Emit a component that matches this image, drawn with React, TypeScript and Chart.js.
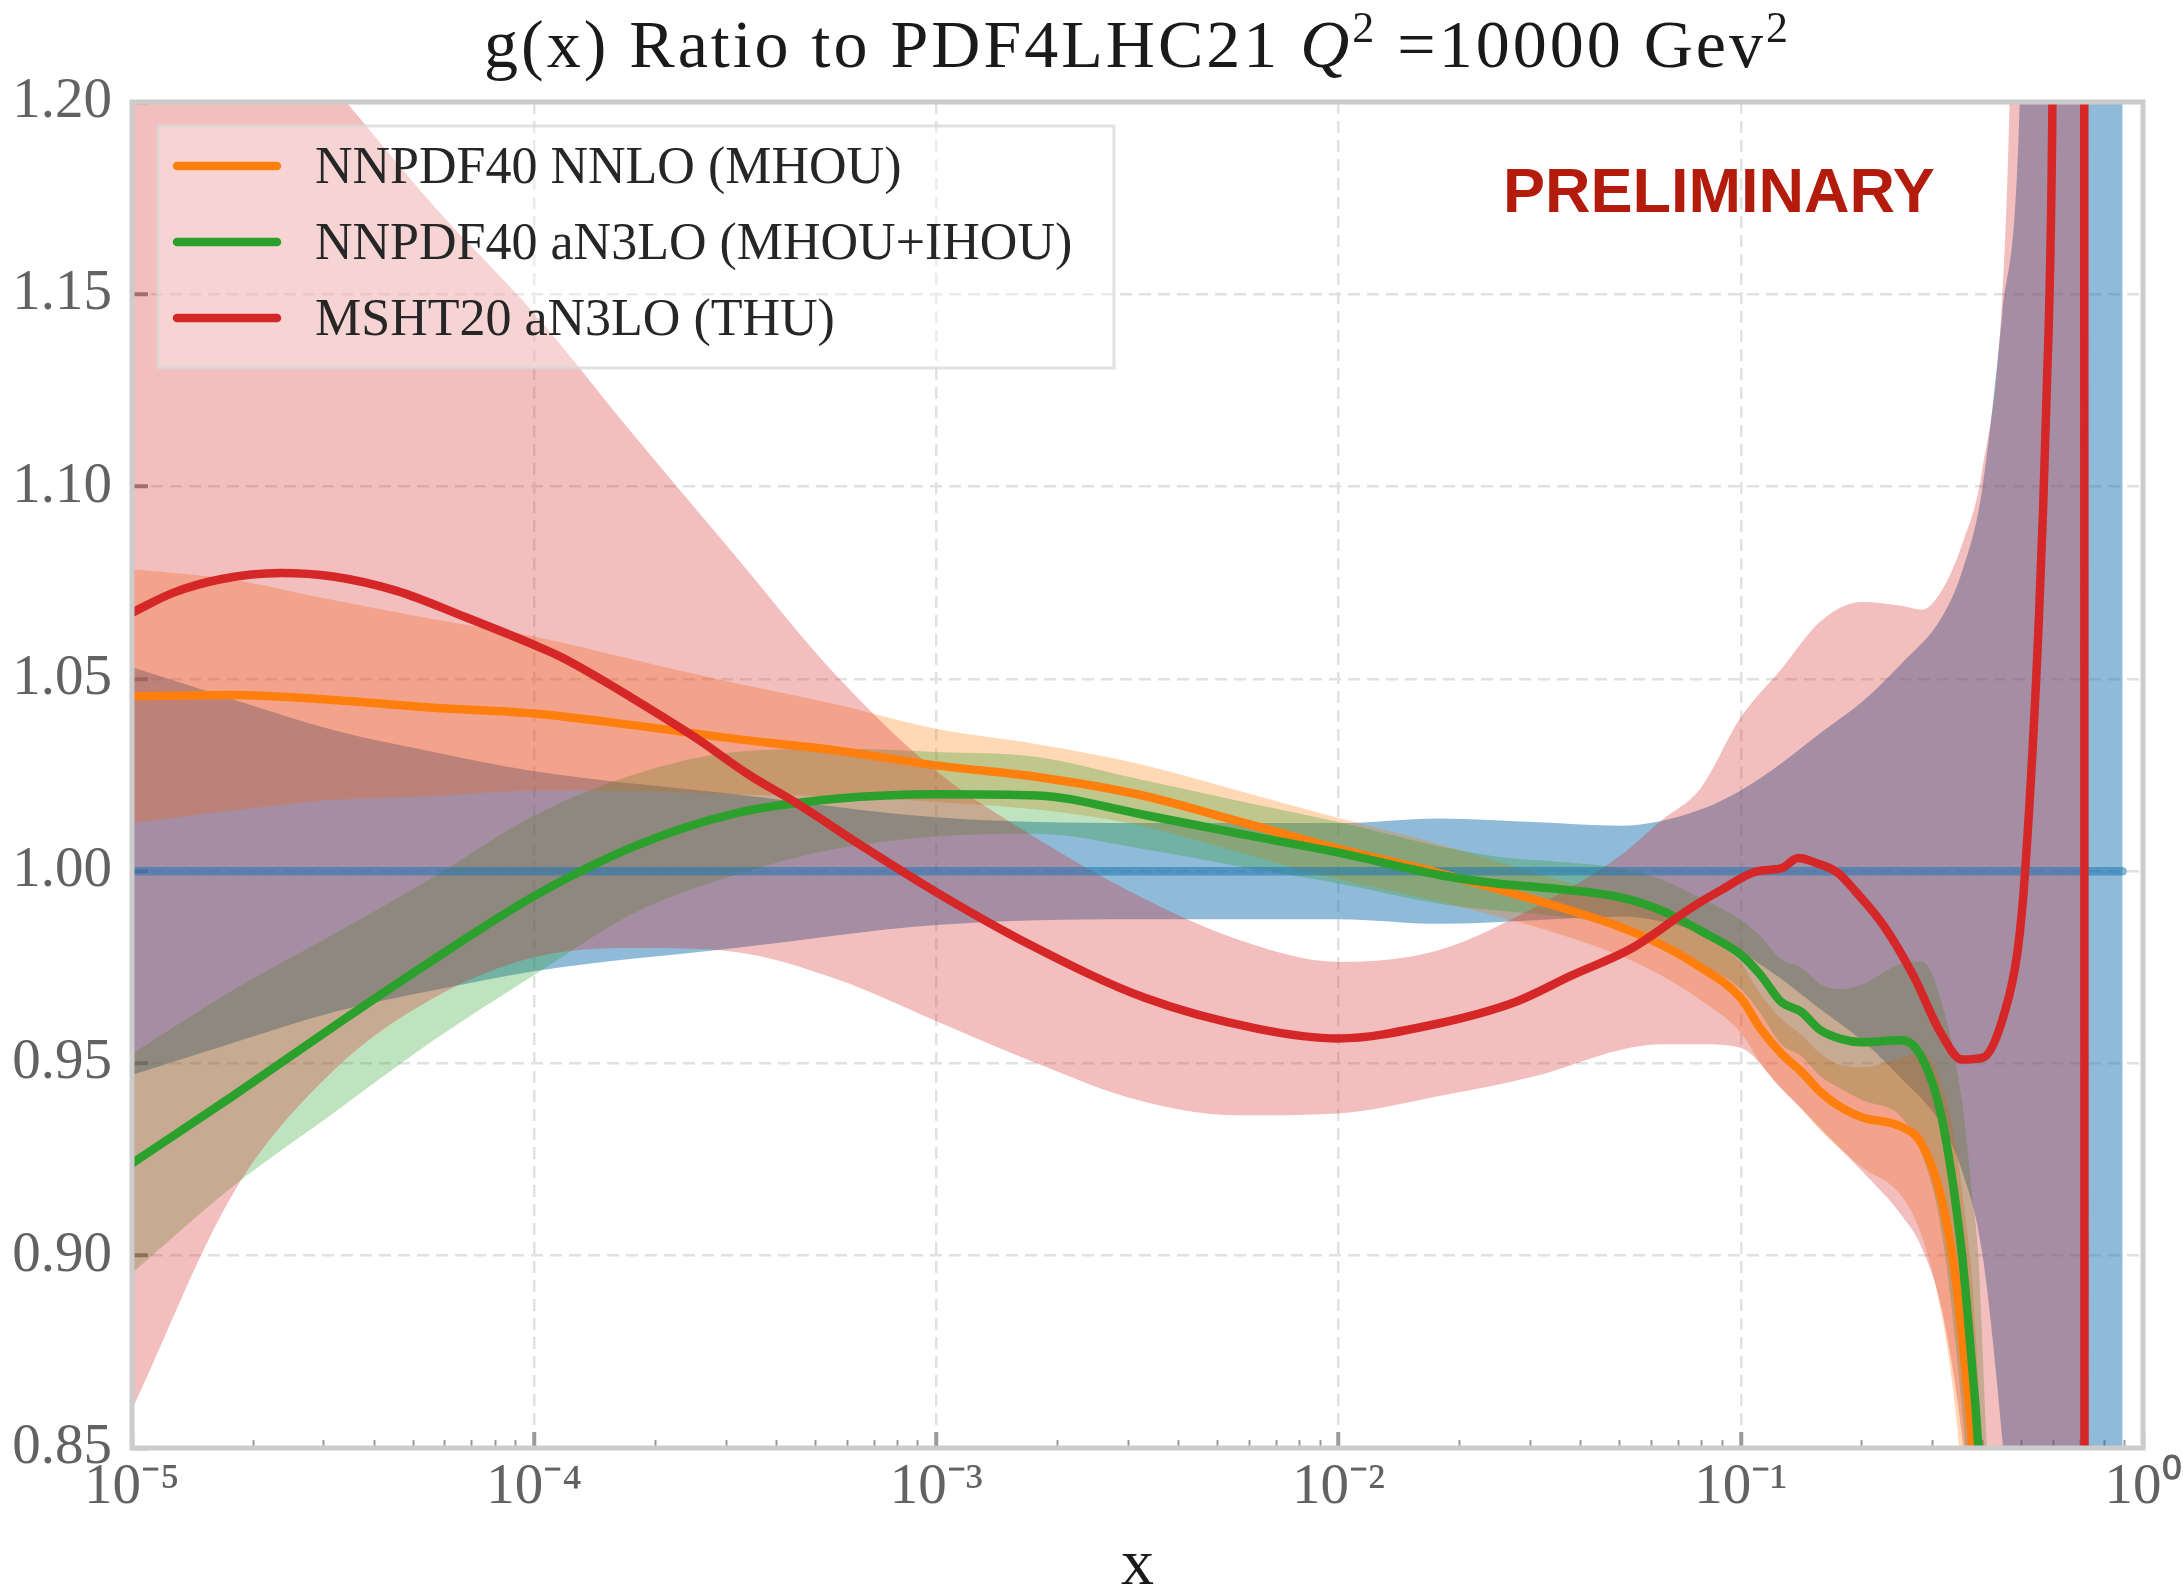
import React, { useEffect, useRef } from 'react';
import { Chart, registerables } from 'chart.js';

Chart.register(...registerables);

// ---------- text ----------
const TITLE_MAIN = 'g(x) Ratio to PDF4LHC21 ';
const TITLE_Q = 'Q';
const TITLE_SUP = '2';
const TITLE_REST = ' =10000 Gev';
const X_LABEL = 'x';
const WATERMARK = 'PRELIMINARY';

// ---------- axes ----------
const X_TICKS = [1e-5, 1e-4, 1e-3, 1e-2, 1e-1, 1];
const X_TICK_LABELS = ['10⁻⁵', '10⁻⁴', '10⁻³', '10⁻²', '10⁻¹', '10⁰'];
const Y_TICKS = [0.85, 0.9, 0.95, 1.0, 1.05, 1.1, 1.15, 1.2];
const Y_TICK_LABELS = ['0.85', '0.90', '0.95', '1.00', '1.05', '1.10', '1.15', '1.20'];

// ---------- series ----------
const SERIES_LABELS = ['NNPDF40 NNLO (MHOU)', 'NNPDF40 aN3LO (MHOU+IHOU)', 'MSHT20 aN3LO (THU)'];
const SERIES_COLORS = ['#ff7f0e', '#2ca02c', '#d62728'];
const SERIES_BAND_COLORS = ['rgba(255,127,14,0.3)', 'rgba(44,160,44,0.3)', 'rgba(214,39,40,0.3)'];
const REF_LINE_COLOR = 'rgba(31,119,180,0.55)';
const REF_BAND_COLOR = 'rgba(31,119,180,0.5)';

// PDF4LHC21 (reference, ratio = 1)
const REF_LINE_X = [1e-5, 0.89];
const REF_LINE_Y = [1.0, 1.0];
const REF_X = [1e-5, 1.78e-5, 3.16e-5, 5.62e-5, 1e-4, 3.16e-4, 1e-3, 3.16e-3, 1e-2, 1.78e-2, 3.16e-2, 5.01e-2, 6.31e-2, 7.94e-2, 0.1, 0.126, 0.158, 0.2, 0.251, 0.316, 0.355, 0.398, 0.447, 0.49, 0.562, 0.89];
const REF_UPPER = [1.053, 1.0447, 1.0367, 1.031, 1.026, 1.02, 1.014, 1.0125, 1.0125, 1.0137, 1.0127, 1.0118, 1.013, 1.016, 1.021, 1.028, 1.036, 1.044, 1.054, 1.066, 1.078, 1.099, 1.145, 1.19, 1.45, 1.5];
const REF_LOWER = [0.947, 0.9553, 0.9633, 0.969, 0.974, 0.98, 0.986, 0.9875, 0.9875, 0.9863, 0.9873, 0.9882, 0.987, 0.984, 0.979, 0.972, 0.964, 0.956, 0.946, 0.934, 0.922, 0.901, 0.852, 0.8, 0.55, 0.5];

// NNPDF40 NNLO (MHOU)
const NNLO_X = [1e-5, 1.78e-5, 3.16e-5, 5.62e-5, 1e-4, 1.78e-4, 3.16e-4, 5.62e-4, 1e-3, 1.78e-3, 3.16e-3, 5.62e-3, 1e-2, 1.78e-2, 3.16e-2, 5.01e-2, 6.31e-2, 7.94e-2, 0.1, 0.112, 0.126, 0.141, 0.158, 0.178, 0.2, 0.251, 0.282, 0.316, 0.343, 0.363, 0.376, 0.398, 0.447];
const NNLO_CENTRAL = [1.0455, 1.0458, 1.0445, 1.0425, 1.041, 1.0379, 1.0344, 1.0314, 1.0275, 1.0245, 1.02, 1.013, 1.0058, 0.9995, 0.9922, 0.9855, 0.981, 0.975, 0.967, 0.959, 0.9526, 0.948, 0.9425, 0.9385, 0.936, 0.9335, 0.929, 0.9145, 0.8932, 0.8686, 0.8507, 0.8, 0.7];
const NNLO_UPPER = [1.0785, 1.0758, 1.0705, 1.0655, 1.061, 1.0549, 1.0489, 1.0434, 1.037, 1.033, 1.028, 1.021, 1.0138, 1.007, 0.9992, 0.993, 0.989, 0.9835, 0.976, 0.968, 0.9616, 0.9575, 0.9525, 0.9495, 0.949, 0.9515, 0.953, 0.9445, 0.9282, 0.9086, 0.8937, 0.85, 0.76];
const NNLO_LOWER = [1.0125, 1.0158, 1.0185, 1.0195, 1.021, 1.0209, 1.0199, 1.0194, 1.018, 1.016, 1.012, 1.005, 0.9978, 0.992, 0.9852, 0.978, 0.973, 0.9665, 0.958, 0.95, 0.9436, 0.9385, 0.9325, 0.9275, 0.923, 0.9155, 0.905, 0.8845, 0.8582, 0.8286, 0.8077, 0.75, 0.64];

// NNPDF40 aN3LO (MHOU+IHOU)
const AN3LO_X = [1e-5, 1.78e-5, 3.16e-5, 5.62e-5, 1e-4, 1.78e-4, 3.16e-4, 5.62e-4, 1e-3, 1.78e-3, 3.16e-3, 5.62e-3, 1e-2, 1.78e-2, 2.51e-2, 3.16e-2, 5.01e-2, 6.31e-2, 7.94e-2, 0.1, 0.112, 0.126, 0.141, 0.158, 0.178, 0.2, 0.251, 0.282, 0.316, 0.355, 0.376, 0.389, 0.407, 0.447];
const AN3LO_CENTRAL = [0.924, 0.9415, 0.9595, 0.977, 0.9935, 1.0065, 1.015, 1.0188, 1.02, 1.0197, 1.015, 1.0098, 1.0048, 0.999, 0.9967, 0.9958, 0.9932, 0.9899, 0.9845, 0.9783, 0.973, 0.966, 0.9635, 0.9586, 0.9563, 0.9555, 0.956, 0.9515, 0.9358, 0.9, 0.871, 0.8507, 0.8, 0.7];
const AN3LO_UPPER = [0.9525, 0.969, 0.9835, 0.9985, 1.0145, 1.0252, 1.031, 1.0318, 1.031, 1.0297, 1.024, 1.0183, 1.0128, 1.0065, 1.0037, 1.0028, 1.0007, 0.9979, 0.993, 0.9873, 0.983, 0.977, 0.975, 0.9706, 0.9693, 0.9705, 0.976, 0.9765, 0.9658, 0.94, 0.916, 0.9007, 0.855, 0.76];
const AN3LO_LOWER = [0.8955, 0.918, 0.937, 0.956, 0.973, 0.9892, 0.999, 1.0058, 1.009, 1.0097, 1.006, 1.0013, 0.9968, 0.9915, 0.9897, 0.9888, 0.9857, 0.9819, 0.976, 0.9693, 0.963, 0.955, 0.952, 0.9466, 0.9433, 0.9405, 0.936, 0.9265, 0.9058, 0.86, 0.826, 0.8007, 0.745, 0.64];

// MSHT20 aN3LO (THU)
const MSHT_X = [1e-5, 1.26e-5, 1.66e-5, 2.34e-5, 3.16e-5, 4.57e-5, 6.76e-5, 1e-4, 1.17e-4, 1.74e-4, 2.51e-4, 3.39e-4, 4.47e-4, 6.61e-4, 1e-3, 1.7e-3, 3.31e-3, 6.31e-3, 1e-2, 1.7e-2, 2.75e-2, 3.8e-2, 5.37e-2, 7.67e-2, 8.91e-2, 0.11, 0.126, 0.139, 0.155, 0.174, 0.194, 0.226, 0.269, 0.314, 0.355, 0.4, 0.452, 0.488, 0.509, 0.551, 0.575, 0.594, 0.61, 0.714, 0.716];
const MSHT_CENTRAL = [1.0672, 1.0723, 1.0759, 1.0775, 1.0766, 1.0728, 1.066, 1.0588, 1.0556, 1.0452, 1.0348, 1.0253, 1.0178, 1.0062, 0.9945, 0.981, 0.967, 0.959, 0.9565, 0.96, 0.966, 0.9729, 0.98, 0.991, 0.995, 1.0, 1.0007, 1.0034, 1.002, 0.9996, 0.9944, 0.986, 0.9727, 0.958, 0.951, 0.9515, 0.963, 0.9794, 0.9996, 1.0657, 1.1216, 1.189, 1.35, 1.35, 0.6];
const MSHT_BAND_X = [1e-5, 1.78e-5, 3.16e-5, 5.62e-5, 1e-4, 1.78e-4, 3.16e-4, 5.62e-4, 1e-3, 1.78e-3, 3.16e-3, 5.62e-3, 1e-2, 1.78e-2, 3.16e-2, 5.01e-2, 6.31e-2, 7.94e-2, 0.1, 0.126, 0.158, 0.2, 0.251, 0.282, 0.316, 0.355, 0.398, 0.447, 0.467, 0.501, 0.716];
const MSHT_UPPER = [1.265, 1.233, 1.204, 1.173, 1.145, 1.113, 1.082, 1.051, 1.026, 1.0085, 0.9937, 0.9822, 0.9764, 0.9795, 0.9913, 1.004, 1.013, 1.0215, 1.04, 1.0525, 1.065, 1.07, 1.069, 1.068, 1.073, 1.085, 1.104, 1.15, 1.205, 1.4, 1.5];
const MSHT_LOWER = [0.86, 0.916, 0.948, 0.967, 0.9776, 0.98, 0.979, 0.972, 0.961, 0.95, 0.9405, 0.9365, 0.937, 0.9415, 0.947, 0.9535, 0.955, 0.955, 0.954, 0.9435, 0.933, 0.922, 0.9105, 0.902, 0.886, 0.853, 0.8, 0.7, 0.66, 0.6, 0.5];

// ---------- helpers ----------
const pts = (xs: number[], ys: number[]) => xs.map((x, i) => ({ x, y: ys[i] }));

const common = {
  xAxisID: 'x',
  yAxisID: 'y',
  pointRadius: 0,
  pointHoverRadius: 0,
  cubicInterpolationMode: 'monotone' as const,
};

function band(xs: number[], lower: number[], upper: number[], color: string, order: number) {
  return [
    { ...common, label: '_lo', data: pts(xs, lower), borderWidth: 0, fill: false, order },
    { ...common, label: '_hi', data: pts(xs, upper), borderWidth: 0, backgroundColor: color, fill: '-1', order },
  ];
}

function line(xs: number[], ys: number[], color: string, width: number, order: number) {
  return {
    ...common,
    label: '_line',
    data: pts(xs, ys),
    borderColor: color,
    borderWidth: width,
    borderCapStyle: 'round' as const,
    borderJoinStyle: 'round' as const,
    fill: false,
    order,
  };
}

const SERIF = '"Liberation Serif", "Times New Roman", serif';

const framePlugin = {
  id: 'frameBox',
  afterDatasetsDraw(chart: any) {
    const { ctx, chartArea: a } = chart;
    ctx.save();
    ctx.strokeStyle = '#cccccc';
    ctx.lineWidth = 5;
    ctx.strokeRect(a.left, a.top, a.right - a.left, a.bottom - a.top);
    ctx.restore();
  },
};

const legendPlugin = {
  id: 'boxLegend',
  afterDatasetsDraw(chart: any) {
    const { ctx, chartArea: a } = chart;
    const x0 = a.left + 26;
    const y0 = a.top + 24;
    ctx.save();
    ctx.fillStyle = 'rgba(255,255,255,0.35)';
    ctx.fillRect(x0, y0, 956, 242);
    ctx.strokeStyle = 'rgba(215,215,215,0.75)';
    ctx.lineWidth = 3;
    ctx.strokeRect(x0, y0, 956, 242);
    ctx.font = `52px ${SERIF}`;
    ctx.textBaseline = 'middle';
    ctx.textAlign = 'left';
    SERIES_LABELS.forEach((label, i) => {
      const y = a.top + 64 + i * 76;
      ctx.strokeStyle = SERIES_COLORS[i];
      ctx.lineWidth = 8.5;
      ctx.lineCap = 'round';
      ctx.beginPath();
      ctx.moveTo(a.left + 45, y);
      ctx.lineTo(a.left + 145, y);
      ctx.stroke();
      ctx.fillStyle = '#262626';
      ctx.fillText(label, a.left + 183, y + 3);
    });
    ctx.restore();
  },
};

const watermarkPlugin = {
  id: 'watermark',
  afterDatasetsDraw(chart: any) {
    const { ctx, chartArea: a } = chart;
    ctx.save();
    ctx.font = 'bold 63px "Liberation Sans", Arial, sans-serif';
    ctx.fillStyle = '#b31b0c';
    ctx.textBaseline = 'alphabetic';
    ctx.textAlign = 'left';
    ctx.fillText(WATERMARK, a.left + 1371, a.top + 110);
    ctx.restore();
  },
};

const titlePlugin = {
  id: 'mixedTitle',
  afterDraw(chart: any) {
    const { ctx, chartArea: a } = chart;
    const normal = `68px ${SERIF}`;
    const italic = `italic 68px ${SERIF}`;
    const sup = `44px ${SERIF}`;
    const parts: any[] = [
      { text: TITLE_MAIN, font: normal, dy: 0 },
      { text: TITLE_Q, font: italic, dy: 0 },
      { text: TITLE_SUP, font: sup, dy: -25 },
      { text: TITLE_REST, font: normal, dy: 0 },
      { text: TITLE_SUP, font: sup, dy: -25 },
    ];
    ctx.save();
    if ('letterSpacing' in ctx) ctx.letterSpacing = '3px';
    let total = 0;
    parts.forEach((p) => {
      ctx.font = p.font;
      p.w = ctx.measureText(p.text).width;
      total += p.w;
    });
    let x = (a.left + a.right) / 2 - total / 2;
    ctx.fillStyle = '#1a1a1a';
    ctx.textBaseline = 'alphabetic';
    ctx.textAlign = 'left';
    parts.forEach((p) => {
      ctx.font = p.font;
      ctx.fillText(p.text, x, 67 + p.dy);
      x += p.w;
    });
    ctx.restore();
  },
};

const isMinor = (v: number) => {
  const e = Math.floor(Math.log10(v) + 1e-9);
  const m = v / Math.pow(10, e);
  const r = Math.round(m);
  return Math.abs(m - r) < 1e-6 && r >= 2 && r <= 9;
};

export default function App() {
  const ref = useRef<HTMLCanvasElement>(null);

  useEffect(() => {
    const canvas = ref.current;
    if (!canvas) return;

    const datasets: any[] = [
      ...band(REF_X, REF_LOWER, REF_UPPER, REF_BAND_COLOR, 20),
      ...band(NNLO_X, NNLO_LOWER, NNLO_UPPER, SERIES_BAND_COLORS[0], 19),
      ...band(AN3LO_X, AN3LO_LOWER, AN3LO_UPPER, SERIES_BAND_COLORS[1], 18),
      ...band(MSHT_BAND_X, MSHT_LOWER, MSHT_UPPER, SERIES_BAND_COLORS[2], 17),
      line(REF_LINE_X, REF_LINE_Y, REF_LINE_COLOR, 8.5, 5),
      line(NNLO_X, NNLO_CENTRAL, SERIES_COLORS[0], 8.5, 4),
      line(AN3LO_X, AN3LO_CENTRAL, SERIES_COLORS[1], 8.5, 3),
      line(MSHT_X, MSHT_CENTRAL, SERIES_COLORS[2], 8.5, 2),
    ];

    const tickFont = { family: SERIF, size: 57 };

    const chart = new Chart(canvas, {
      type: 'line',
      data: { datasets },
      options: {
        responsive: false,
        animation: false,
        devicePixelRatio: 1,
        events: [],
        layout: { padding: { left: 0, top: 102, right: 40, bottom: 0 } },
        plugins: {
          legend: { display: false },
          tooltip: { enabled: false },
          title: { display: false },
        },
        scales: {
          x: {
            type: 'logarithmic',
            position: 'bottom',
            min: 1e-5,
            max: 1,
            afterBuildTicks: (s: any) => {
              s.ticks = X_TICKS.map((v) => ({ value: v, major: true }));
            },
            afterFit: (s: any) => {
              s.height = 147;
              s.paddingLeft = 0;
              s.paddingRight = 0;
            },
            ticks: {
              autoSkip: false,
              maxRotation: 0,
              minRotation: 0,
              padding: 22,
              color: '#626262',
              font: tickFont,
              callback: (_v: any, i: number) => X_TICK_LABELS[i],
            },
            grid: {
              color: '#e1e1e1',
              lineWidth: 2.5,
              drawTicks: true,
              tickLength: -16,
              tickColor: '#9a9a9a',
              tickWidth: 4,
            },
            border: { display: false, dash: [12, 7] },
            title: {
              display: true,
              text: X_LABEL,
              color: '#1a1a1a',
              font: { family: SERIF, size: 66, lineHeight: 1 },
              padding: { top: 0, bottom: -5 },
            },
          } as any,
          xm: {
            axis: 'x',
            type: 'logarithmic',
            position: { y: 0.85 },
            min: 1e-5,
            max: 1,
            afterBuildTicks: (s: any) => {
              s.ticks = s.ticks.filter((t: any) => isMinor(t.value));
            },
            afterFit: (s: any) => {
              s.paddingLeft = 0;
              s.paddingRight = 0;
            },
            ticks: { display: false, autoSkip: false },
            grid: {
              drawOnChartArea: false,
              drawTicks: true,
              tickLength: -8,
              tickColor: '#9a9a9a',
              tickWidth: 2,
            },
            border: { display: false },
          } as any,
          y: {
            type: 'linear',
            position: 'left',
            min: 0.85,
            max: 1.2,
            afterBuildTicks: (s: any) => {
              s.ticks = Y_TICKS.map((v) => ({ value: v }));
            },
            afterFit: (s: any) => {
              s.width = 132;
              s.paddingTop = 0;
              s.paddingBottom = 0;
            },
            ticks: {
              padding: 36,
              color: '#626262',
              font: tickFont,
              callback: (_v: any, i: number) => Y_TICK_LABELS[i],
            },
            grid: {
              color: '#e1e1e1',
              lineWidth: 2.5,
              drawTicks: true,
              tickLength: -16,
              tickColor: '#8a8a8a',
              tickWidth: 4,
            },
            border: { display: false, dash: [12, 7] },
          } as any,
        },
      } as any,
      plugins: [framePlugin, legendPlugin, watermarkPlugin, titlePlugin],
    });

    return () => chart.destroy();
  }, []);

  return (
    <div style={{ position: 'fixed', left: 0, top: 0, width: 2183, height: 1595, background: '#ffffff' }}>
      <canvas ref={ref} width={2183} height={1595} style={{ display: 'block', width: 2183, height: 1595 }} />
    </div>
  );
}
